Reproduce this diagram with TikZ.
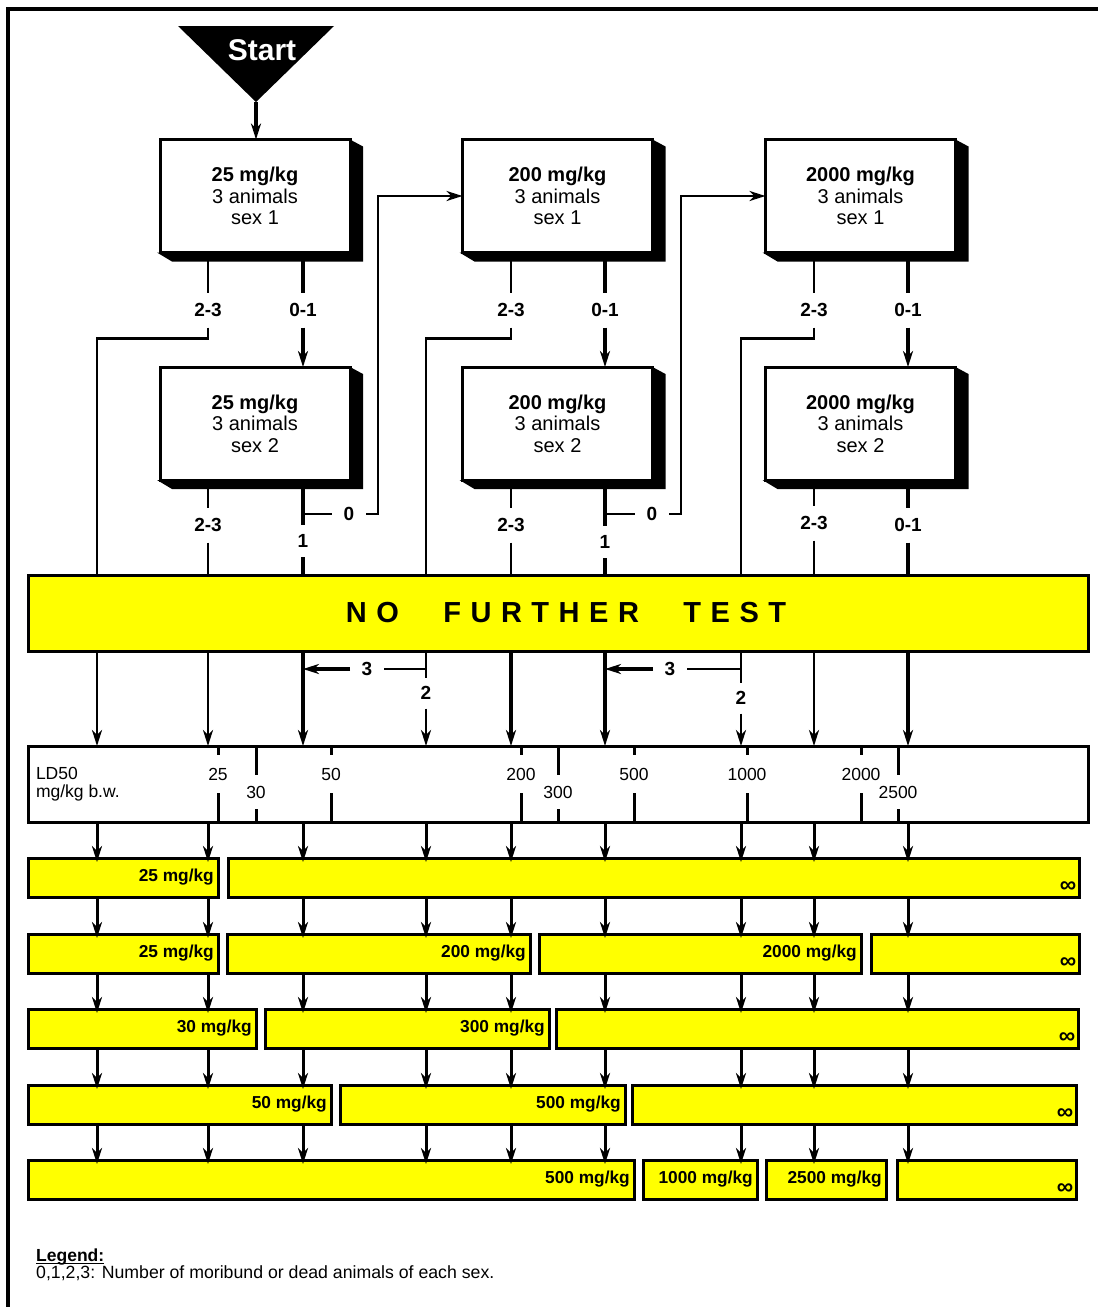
\documentclass[tikz,border=0pt]{standalone}
\usepackage{fontspec}
\setmainfont{Liberation Sans}
\usetikzlibrary{arrows.meta,calc}
\definecolor{yel}{RGB}{255,255,0}
\newcommand\fsz[2]{\fontsize{#1}{#2}\selectfont}
\newcommand\lsp{\hspace{9.5pt}}
\newcommand\wsp{\hspace{44.5pt}}
\begin{document}
\begin{tikzpicture}[x=1pt,y=-1pt,
  >={Stealth[length=16pt,width=10pt,inset=5pt]},
  doseb/.style={draw,line width=3pt,fill=white,minimum width=190pt,minimum height=113pt,inner sep=0pt,outer sep=0pt,align=center,font=\fsz{20}{21.5}},
  lab/.style={font=\bfseries\fsz{19}{19},inner sep=0pt,outer sep=0pt,minimum height=35pt},
  tk/.style={font=\fsz{17.5}{17.5},inner sep=0pt,outer sep=0pt},
  lnA/.style={line width=2.6pt},
  lnB/.style={line width=3.5pt},
  ybox/.style={draw,fill=yel,line width=3pt,minimum height=39pt,inner sep=0pt,outer sep=0pt},
  blab/.style={font=\bfseries\fsz{17.3}{17.3},inner sep=0pt},
  infl/.style={font=\bfseries\fsz{23}{23},inner sep=0pt},
]
\useasboundingbox (0,0) rectangle (1098,1307);
% frame
\draw[line width=4pt] (8,1307) -- (8,9) -- (1098,9);

% column coordinates
\coordinate (cA) at (97,0);
\coordinate (cB) at (208,0);
\coordinate (cC) at (303,0);
\coordinate (cD) at (426,0);
\coordinate (cE) at (511,0);
\coordinate (cF) at (605,0);
\coordinate (cG) at (741,0);
\coordinate (cH) at (814,0);
\coordinate (cI) at (908,0);

% start
\fill (178,26) -- (334,26) -- (256,102) -- cycle;
\coordinate (apex) at (256,102);
\node[font=\bfseries\fsz{30}{30},text=white,inner sep=0pt] (start) at (262,50) {Start};

% dose boxes
\node[doseb] (bA1) at (255,196) {\textbf{25 mg/kg}\\3 animals\\sex 1};
\node[doseb] (bA2) at (255,423.5) {\textbf{25 mg/kg}\\3 animals\\sex 2};
\node[doseb] (bB1) at (557.5,196) {\textbf{200 mg/kg}\\3 animals\\sex 1};
\node[doseb] (bB2) at (557.5,423.5) {\textbf{200 mg/kg}\\3 animals\\sex 2};
\node[doseb] (bC1) at (860.5,196) {\textbf{2000 mg/kg}\\3 animals\\sex 1};
\node[doseb] (bC2) at (860.5,423.5) {\textbf{2000 mg/kg}\\3 animals\\sex 2};
\foreach \b in {bA1,bA2,bB1,bB2,bC1,bC2}{
  \fill (\b.north east) -- ([shift={(13,7)}]\b.north east) -- ([shift={(13,9)}]\b.south east)
     -- ([shift={(12,9)}]\b.south west) -- ([shift={(-3,0)}]\b.south west) -- (\b.south east) -- cycle;
}

\draw[lnB,->] (apex) -- (apex |- bA1.north);

% NO FURTHER TEST bar
\node[draw,fill=yel,line width=3pt,minimum width=1060pt,minimum height=76pt,inner sep=0pt,outer sep=0pt] (nft) at (558,613) {};
\node[font=\bfseries\fsz{29}{29},inner sep=0pt] (nftt) at (566,613) {N\lsp O\wsp F\lsp U\lsp R\lsp T\lsp H\lsp E\lsp R\wsp T\lsp E\lsp S\lsp T};

% LD50 scale box
\node[draw,line width=3pt,minimum width=1060pt,minimum height=76pt,inner sep=0pt,outer sep=0pt] (ld) at (558,784) {};
\node[tk,anchor=base west] (ldt1) at (36,779) {LD50};
\node[tk,anchor=base west] (ldt2) at (36,797) {mg/kg b.w.};
\foreach \x/\t in {218/25,331/50,521/200,634/500,747/1000,861/2000}{
  \node[tk,minimum height=38pt] (t\t) at (\x,774) {\t};
  \draw[line width=3pt] (ld.north -| t\t) -- (t\t.north);
  \draw[line width=3pt] (t\t.south) -- (ld.south -| t\t);
}
\foreach \x/\t in {256/30,558/300,898/2500}{
  \node[tk,minimum height=34pt] (t\t) at (\x,792) {\t};
  \draw[line width=3pt] (ld.north -| t\t) -- (t\t.north);
  \draw[line width=3pt] (t\t.south) -- (ld.south -| t\t);
}

% ---- column A (25 mg/kg)
\node[lab] (a23) at (208,310) {2-3};
\node[lab] (a01) at (303,310) {0-1};
\draw[lnA] (bA1.south -| a23) -- (a23.north);
\draw[lnA] (a23.south) -- ++(0,11) -| (nft.north -| cA);
\draw[lnB] (bA1.south -| a01) -- (a01.north);
\draw[lnB,->] (a01.south) -- (bA2.north -| a01);
\node[lab] (a23b) at (208,525) {2-3};
\draw[lnA] (bA2.south -| a23b) -- (a23b.north);
\draw[lnA] (a23b.south) -- (nft.north -| a23b);
\node[lab,minimum height=32pt] (a1) at (303,541) {1};
\node[lab,minimum width=34pt] (a0) at (349,514) {0};
\draw[lnB] (bA2.south -| a1) -- (a1.north);
\draw[lnB] (a1.south) -- (nft.north -| a1);
\draw[lnA] (a1 |- a0) -- (a0.west);
\draw[lnA,->] (a0.east) -- ++(12,0) |- (bB1.west);

% ---- column B (200 mg/kg)
\node[lab] (b23) at (511,310) {2-3};
\node[lab] (b01) at (605,310) {0-1};
\draw[lnA] (bB1.south -| b23) -- (b23.north);
\draw[lnA] (b23.south) -- ++(0,11) -| (nft.north -| cD);
\draw[lnB] (bB1.south -| b01) -- (b01.north);
\draw[lnB,->] (b01.south) -- (bB2.north -| b01);
\node[lab] (b23b) at (511,525) {2-3};
\draw[lnA] (bB2.south -| b23b) -- (b23b.north);
\draw[lnA] (b23b.south) -- (nft.north -| b23b);
\node[lab,minimum height=32pt] (b1) at (605,542) {1};
\node[lab,minimum width=34pt] (b0) at (652,514) {0};
\draw[lnB] (bB2.south -| b1) -- (b1.north);
\draw[lnB] (b1.south) -- (nft.north -| b1);
\draw[lnA] (b1 |- b0) -- (b0.west);
\draw[lnA,->] (b0.east) -- ++(12,0) |- (bC1.west);

% ---- column C (2000 mg/kg)
\node[lab] (c23) at (814,310) {2-3};
\node[lab] (c01) at (908,310) {0-1};
\draw[lnA] (bC1.south -| c23) -- (c23.north);
\draw[lnA] (c23.south) -- ++(0,11) -| (nft.north -| cG);
\draw[lnB] (bC1.south -| c01) -- (c01.north);
\draw[lnB,->] (c01.south) -- (bC2.north -| c01);
\node[lab] (c23b) at (814,523) {2-3};
\draw[lnA] (bC2.south -| c23b) -- (c23b.north);
\draw[lnA] (c23b.south) -- (nft.north -| c23b);
\node[lab] (c01b) at (908,525) {0-1};
\draw[lnB] (bC2.south -| c01b) -- (c01b.north);
\draw[lnB] (c01b.south) -- (nft.north -| c01b);

% ---- below NO FURTHER TEST
\foreach \c in {cA,cB,cH}{\draw[lnA,->] (nft.south -| \c) -- (ld.north -| \c);}
\foreach \c in {cC,cE,cF,cI}{\draw[lnB,->] (nft.south -| \c) -- (ld.north -| \c);}
\node[lab,minimum height=31pt] (d2) at (426,693) {2};
\node[lab,minimum width=34pt] (d3) at (367,669) {3};
\draw[lnA] (nft.south -| d2) -- (d2.north);
\draw[lnA,->] (d2.south) -- (ld.north -| d2);
\draw[lnA] (d2 |- d3) -- (d3.east);
\draw[lnB,->] (d3.west) -- (cC |- d3);
\node[lab,minimum height=31pt] (g2) at (741,698) {2};
\node[lab,minimum width=34pt] (g3) at (670,669) {3};
\draw[lnA] (nft.south -| g2) -- (g2.north);
\draw[lnA,->] (g2.south) -- (ld.north -| g2);
\draw[lnA] (g2 |- g3) -- (g3.east);
\draw[lnB,->] (g3.west) -- (cF |- g3);

% ---- yellow result bars
\newcommand\ybar[5]{%
  \node[ybox,anchor=north west,minimum width={(#3-#2)*1pt}] (#1) at (#2,#4) {};
  \node[blab,anchor=east] (#1t) at ([xshift=-4pt]#1.east) {#5};}
\newcommand\ibar[4]{%
  \node[ybox,anchor=north west,minimum width={(#3-#2)*1pt}] (#1) at (#2,#4) {};
  \node[infl] (#1t) at ([xshift=-11pt,yshift=10pt]#1.south east) {∞};}
\ybar{ra1}{28}{218}{858}{25 mg/kg}
\ibar{ra2}{228}{1079}{858}
\ybar{rb1}{28}{218}{934}{25 mg/kg}
\ybar{rb2}{227}{530}{934}{200 mg/kg}
\ybar{rb3}{539}{861}{934}{2000 mg/kg}
\ibar{rb4}{871}{1079}{934}
\ybar{rc1}{28}{256}{1009}{30 mg/kg}
\ybar{rc2}{265}{549}{1009}{300 mg/kg}
\ibar{rc3}{556}{1078}{1009}
\ybar{rd1}{28}{331}{1085}{50 mg/kg}
\ybar{rd2}{340}{625}{1085}{500 mg/kg}
\ibar{rd3}{632}{1076}{1085}
\ybar{re1}{28}{634}{1160}{500 mg/kg}
\ybar{re2}{643}{757}{1160}{1000 mg/kg}
\ybar{re3}{766}{886}{1160}{2500 mg/kg}
\ibar{re4}{897}{1076}{1160}

\coordinate (r0) at (0,822);
\coordinate (r1t) at (0,858);
\coordinate (r1b) at (0,897);
\coordinate (r2t) at (0,934);
\coordinate (r2b) at (0,973);
\coordinate (r3t) at (0,1009);
\coordinate (r3b) at (0,1048);
\coordinate (r4t) at (0,1085);
\coordinate (r4b) at (0,1124);
\coordinate (r5t) at (0,1160);
\foreach \c in {cA,cB,cC,cD,cE,cF,cG,cH,cI}{
  \foreach \s/\e in {r0/r1t,r1b/r2t,r2b/r3t,r3b/r4t,r4b/r5t}{
    \draw[line width=3pt,->,shorten >=-4pt] (\c |- \s) -- (\c |- \e);
  }
}

% legend
\node[anchor=base west,inner sep=0pt,font=\bfseries\fsz{17.5}{17.5}] (lg1) at (36,1261) {Legend:};
\draw[line width=1.6pt] ([yshift=-2.5pt]lg1.base west) -- ([yshift=-2.5pt]lg1.base east);
\node[anchor=base west,inner sep=0pt,font=\fsz{17.7}{17.7}] (lg2) at (36,1278) {0,1,2,3: Number of moribund or dead animals of each sex.};
\end{tikzpicture}
\end{document}
